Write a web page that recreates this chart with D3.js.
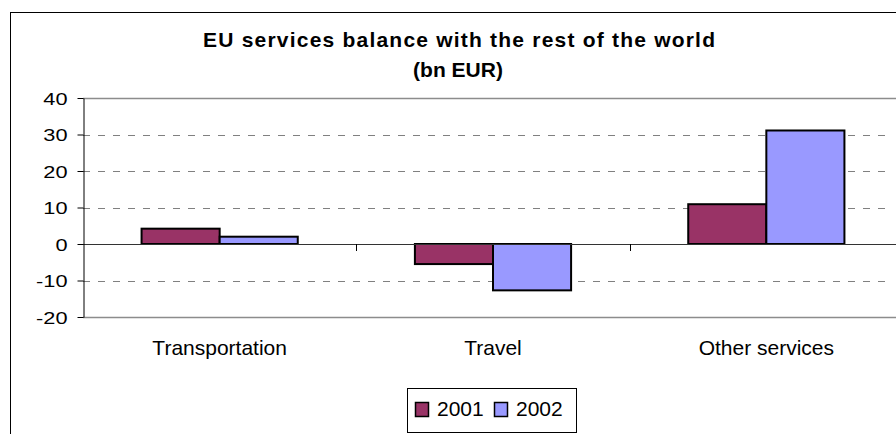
<!DOCTYPE html>
<html>
<head>
<meta charset="utf-8">
<script src="https://cdn.jsdelivr.net/npm/d3@7"></script>
<style>
  body { margin: 0; background: #fff; }
  svg { display: block; font-family: "Liberation Sans", Arial, sans-serif; }
</style>
</head>
<body>
<svg id="chart_svg" width="896" height="434"></svg>
<script>
// data
const categories = ["Transportation", "Travel", "Other services"];
const seriesNames = ["2001", "2002"];
const values2001 = [4.2, -5.5, 10.9];
const values2002 = [2.0, -12.7, 31.1];
const yTicks = [-20, -10, 0, 10, 20, 30, 40];
const titleLines = ["EU services balance with the rest of the world", "(bn EUR)"];

const colors = ["#993366", "#9999ff"];

const svg = d3.select("#chart_svg");
const plot = { left: 83, right: 903, top: 98, bottom: 317 };

// chart frame
svg.append("rect")
    .attr("x", 10.5).attr("y", 12.5)
    .attr("width", 900).attr("height", 440)
    .attr("fill", "#fff").attr("stroke", "#000").attr("stroke-width", 1);

const x0 = d3.scaleBand().domain(categories).range([plot.left, plot.right]).padding(0);
const x1 = d3.scaleBand().domain(seriesNames).range([0, x0.bandwidth()])
    .paddingInner(0).paddingOuter(0.75);
const y = d3.scaleLinear().domain([-20, 40]).range([plot.bottom, plot.top]);

// title
svg.append("text")
    .attr("x", 459).attr("y", 47)
    .attr("text-anchor", "middle").attr("font-size", 21).attr("font-weight", "bold")
    .attr("textLength", 512).attr("lengthAdjust", "spacing")
    .text(titleLines[0]);
svg.append("text")
    .attr("x", 458).attr("y", 77)
    .attr("text-anchor", "middle").attr("font-size", 21).attr("font-weight", "bold")
    .text(titleLines[1]);

// gridlines
svg.append("g").selectAll("line")
    .data(yTicks.filter(d => d !== 0 && d !== 40 && d !== -20))
    .join("line")
    .attr("x1", plot.left).attr("x2", 892)
    .attr("y1", d => Math.round(y(d)) + 0.5).attr("y2", d => Math.round(y(d)) + 0.5)
    .attr("stroke", "#808080").attr("stroke-dasharray", "7,8");

// plot area top/bottom border
svg.append("g").selectAll("line")
    .data([40, -20])
    .join("line")
    .attr("x1", plot.left).attr("x2", 896)
    .attr("y1", d => Math.round(y(d)) + 0.5).attr("y2", d => Math.round(y(d)) + 0.5)
    .attr("stroke", "#8c8c8c").attr("stroke-width", 1.5);

// bars
const rows = categories.map((c, i) => ({ cat: c, vals: [values2001[i], values2002[i]] }));
svg.append("g").selectAll("g")
    .data(rows)
    .join("g")
    .attr("transform", d => `translate(${x0(d.cat)},0)`)
    .selectAll("rect")
    .data(d => d.vals.map((v, j) => ({ key: seriesNames[j], v: v, j: j })))
    .join("rect")
    .attr("x", d => x1(d.key))
    .attr("width", x1.bandwidth())
    .attr("y", d => y(Math.max(0, d.v)))
    .attr("height", d => Math.abs(y(d.v) - y(0)))
    .attr("fill", d => colors[d.j])
    .attr("stroke", "#000").attr("stroke-width", 2);

// zero line and category ticks
svg.append("line")
    .attr("x1", plot.left).attr("x2", 896)
    .attr("y1", Math.round(y(0)) + 0.5).attr("y2", Math.round(y(0)) + 0.5)
    .attr("stroke", "#333");
svg.append("g").selectAll("line")
    .data(categories.slice(1))
    .join("line")
    .attr("x1", d => Math.round(x0(d)) + 0.5).attr("x2", d => Math.round(x0(d)) + 0.5)
    .attr("y1", Math.round(y(0))).attr("y2", Math.round(y(0)) + 7)
    .attr("stroke", "#000");

// y axis, labels are wider than tall in the original so stretch them a bit
const yAxis = svg.append("g")
    .attr("transform", `translate(${plot.left + 0.5},0)`)
    .call(d3.axisLeft(y).tickValues(yTicks).tickSize(6).tickSizeOuter(0));
yAxis.select(".domain").attr("stroke", "#000");
yAxis.selectAll(".tick line").attr("stroke", "#000");
yAxis.selectAll(".tick text").remove();
yAxis.selectAll(".tick").append("text")
    .attr("transform", "translate(-16,6) scale(1.28,1)")
    .attr("text-anchor", "end")
    .attr("font-size", 17)
    .attr("fill", "#000")
    .text(d => d);

// category labels
svg.append("g").selectAll("text")
    .data(categories)
    .join("text")
    .attr("x", d => x0(d) + x0.bandwidth() / 2)
    .attr("y", 355)
    .attr("text-anchor", "middle")
    .attr("font-size", 21)
    .text(d => d);

// legend
const legend = svg.append("g");
legend.append("rect")
    .attr("x", 407.5).attr("y", 388.5).attr("width", 169).attr("height", 44)
    .attr("fill", "#fff").attr("stroke", "#000");
const legendX = [415, 494];
seriesNames.forEach((s, i) => {
    legend.append("rect")
        .attr("x", legendX[i] + 0.5).attr("y", 402.5)
        .attr("width", 13).attr("height", 14)
        .attr("fill", colors[i]).attr("stroke", "#000").attr("stroke-width", 1.5);
    legend.append("text")
        .attr("x", legendX[i] + 22).attr("y", 416)
        .attr("font-size", 21)
        .text(s);
});
</script>
</body>
</html>
